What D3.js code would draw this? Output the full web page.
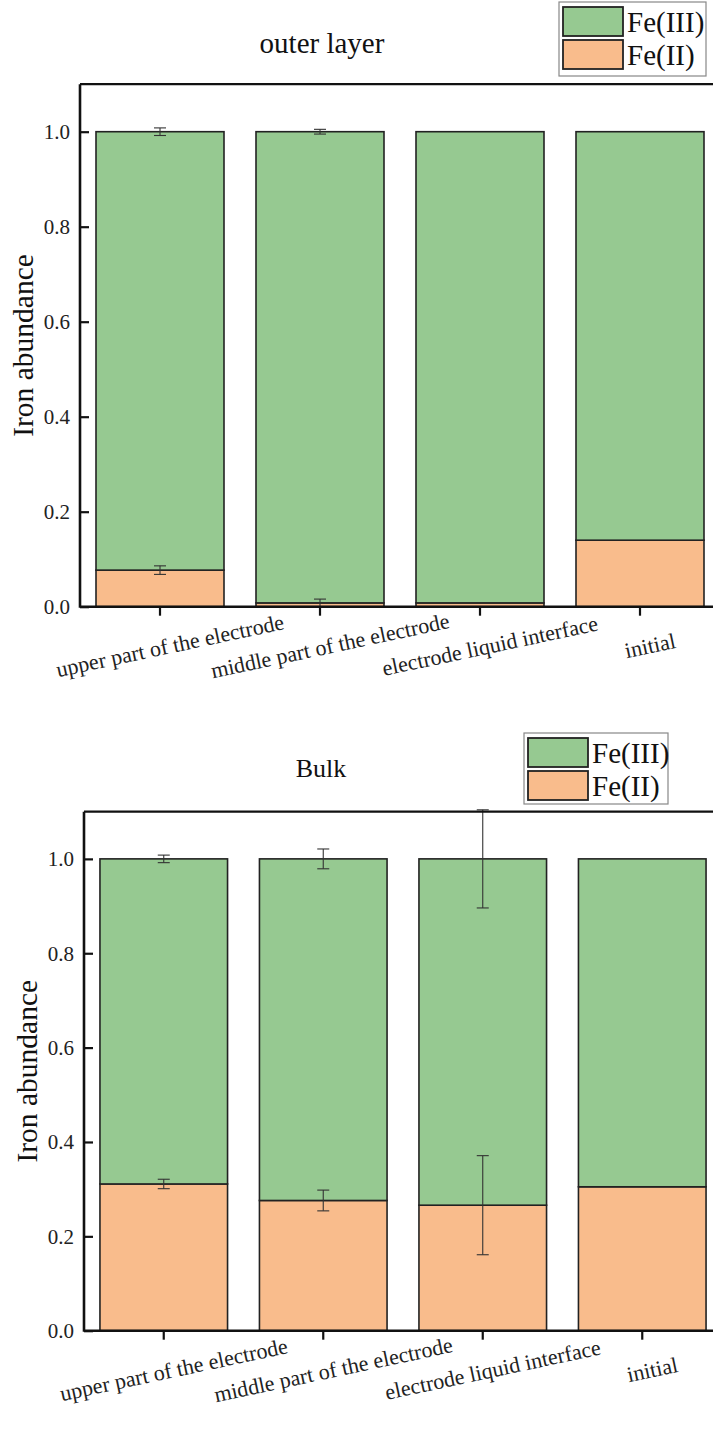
<!DOCTYPE html>
<html>
<head>
<meta charset="utf-8">
<script src="https://cdn.jsdelivr.net/npm/d3@7/dist/d3.min.js"></script>
<style>
  html, body { margin: 0; padding: 0; background: #fff; }
  svg { display: block; }
</style>
</head>
<body>
<svg id="chart" width="713" height="1431"></svg>
<script>
// ---- data ----
const categories = ["upper part of the electrode", "middle part of the electrode", "electrode liquid interface", "initial"];
const seriesNames = ["Fe(III)", "Fe(II)"];
const yTicks = [0.0, 0.2, 0.4, 0.6, 0.8, 1.0];

// panel 1: outer layer
const outerFe2 = [0.077, 0.008, 0.008, 0.140];
const outerFe3 = [0.923, 0.992, 0.992, 0.860];
const outerErrFe2 = [0.009, 0.008, 0, 0];
const outerErrTotal = [0.008, 0.005, 0, 0];

// panel 2: bulk
const bulkFe2 = [0.311, 0.276, 0.266, 0.305];
const bulkFe3 = [0.689, 0.724, 0.734, 0.695];
const bulkErrFe2 = [0.010, 0.022, 0.105, 0];
const bulkErrTotal = [0.008, 0.021, 0.104, 0];

const colors = { "Fe(III)": "#96c991", "Fe(II)": "#f9bc8c" };
const FONT = '"Liberation Serif"';

const svg = d3.select("#chart");

function panel(cfg) {
  const g = svg.append("g");
  const x = d3.scaleBand().domain(categories).range([cfg.x0, cfg.x1]).paddingInner(0.2).paddingOuter(0.1);
  const y = d3.scaleLinear().domain([0, 1.1]).range([cfg.y0, cfg.y1]);

  const rows = categories.map((c, i) => ({ c, fe2: cfg.fe2[i], fe3: cfg.fe3[i], e2: cfg.err2[i], et: cfg.errT[i] }));

  g.selectAll("rect.fe2").data(rows).join("rect")
    .attr("x", d => x(d.c)).attr("width", x.bandwidth())
    .attr("y", d => y(d.fe2)).attr("height", d => y(0) - y(d.fe2))
    .attr("fill", colors["Fe(II)"]).attr("stroke", "#222").attr("stroke-width", 1.6);
  g.selectAll("rect.fe3").data(rows).join("rect")
    .attr("x", d => x(d.c)).attr("width", x.bandwidth())
    .attr("y", d => y(d.fe2 + d.fe3)).attr("height", d => y(d.fe2) - y(d.fe2 + d.fe3))
    .attr("fill", colors["Fe(III)"]).attr("stroke", "#222").attr("stroke-width", 1.6);

  const errs = [];
  rows.forEach(d => {
    if (d.e2 > 0) errs.push({ c: d.c, v: d.fe2, e: d.e2 });
    if (d.et > 0) errs.push({ c: d.c, v: d.fe2 + d.fe3, e: d.et });
  });
  const eg = g.selectAll("g.err").data(errs).join("g").attr("stroke", "#333").attr("stroke-width", 1.1);
  const cx = d => x(d.c) + x.bandwidth() / 2;
  eg.append("line").attr("x1", cx).attr("x2", cx)
    .attr("y1", d => y(Math.max(0, d.v - d.e))).attr("y2", d => y(d.v + d.e));
  eg.append("line").attr("x1", d => cx(d) - 6).attr("x2", d => cx(d) + 6)
    .attr("y1", d => y(d.v + d.e)).attr("y2", d => y(d.v + d.e));
  eg.filter(d => d.v - d.e > 0.002).append("line").attr("x1", d => cx(d) - 6).attr("x2", d => cx(d) + 6)
    .attr("y1", d => y(d.v - d.e)).attr("y2", d => y(d.v - d.e));

  g.append("line").attr("x1", cfg.x0).attr("x2", cfg.x1 + 10).attr("y1", y(1.1)).attr("y2", y(1.1))
    .attr("stroke", "#111").attr("stroke-width", 2.2);

  const ya = g.append("g").attr("transform", `translate(${cfg.x0},0)`)
    .call(d3.axisRight(y).tickValues(yTicks).tickFormat(d3.format(".1f")).tickSize(9).tickSizeOuter(0));
  ya.select(".domain").remove();
  ya.selectAll(".tick line").attr("stroke", "#111").attr("stroke-width", 2.2);
  ya.selectAll(".tick text").attr("x", -10).attr("text-anchor", "end").attr("dy", "0.33em")
    .attr("fill", "#222").attr("font-family", FONT).attr("font-size", 21);
  g.append("line").attr("x1", cfg.x0).attr("x2", cfg.x0).attr("y1", y(1.1)).attr("y2", y(0) + 1)
    .attr("stroke", "#111").attr("stroke-width", 2.6);

  const xa = g.append("g").attr("transform", `translate(0,${y(0)})`)
    .call(d3.axisBottom(x).tickSize(9).tickSizeOuter(0));
  xa.select(".domain").attr("stroke", "#111").attr("stroke-width", 2.6).attr("d", `M${cfg.x0},0H${cfg.x1 + 10}`);
  xa.selectAll(".tick line").attr("stroke", "#111").attr("stroke-width", 2.2);
  xa.selectAll(".tick text")
    .attr("y", 0).attr("dy", 0)
    .attr("text-anchor", "middle")
    .attr("transform", "translate(10,39) rotate(-12)")
    .attr("dominant-baseline", "central")
    .attr("fill", "#222").attr("font-family", FONT).attr("font-size", 22);

  g.append("text").attr("transform", `translate(${cfg.ylabX},${(y(0) + y(1.1)) / 2}) rotate(-90)`)
    .attr("text-anchor", "middle").attr("dominant-baseline", "central")
    .attr("fill", "#111").attr("font-family", FONT).attr("font-size", 29.5).text("Iron abundance");

  g.append("text").attr("x", cfg.titleX).attr("y", cfg.titleY).attr("text-anchor", "middle")
    .attr("fill", "#111").attr("font-family", FONT).attr("font-size", cfg.titleSize).text(cfg.title);

  const L = cfg.legend;
  const lg = g.append("g");
  lg.append("rect").attr("x", L.x).attr("y", L.y).attr("width", L.w).attr("height", L.h)
    .attr("fill", "#fff").attr("stroke", "#888").attr("stroke-width", 1.2);
  seriesNames.forEach((s, i) => {
    lg.append("rect").attr("x", L.x + 4).attr("y", L.y + 5 + i * 33).attr("width", 60).attr("height", 29)
      .attr("fill", colors[s]).attr("stroke", "#222").attr("stroke-width", 1.8);
    lg.append("text").attr("x", L.x + 68).attr("y", L.y + 20 + i * 33).attr("dominant-baseline", "central")
      .attr("fill", "#111").attr("font-family", FONT).attr("font-size", 29).text(s);
  });
}

panel({
  x0: 80, x1: 720, y0: 606.7, y1: 84.2,
  fe2: outerFe2, fe3: outerFe3, err2: outerErrFe2, errT: outerErrTotal,
  title: "outer layer", titleSize: 29, titleX: 322, titleY: 53, ylabX: 23,
  legend: { x: 559, y: 2, w: 147, h: 74 }
});
panel({
  x0: 84, x1: 722, y0: 1330.7, y1: 811.7,
  fe2: bulkFe2, fe3: bulkFe3, err2: bulkErrFe2, errT: bulkErrTotal,
  title: "Bulk", titleSize: 26, titleX: 321, titleY: 777, ylabX: 27,
  legend: { x: 524, y: 733, w: 144, h: 71 }
});
</script>
</body>
</html>
